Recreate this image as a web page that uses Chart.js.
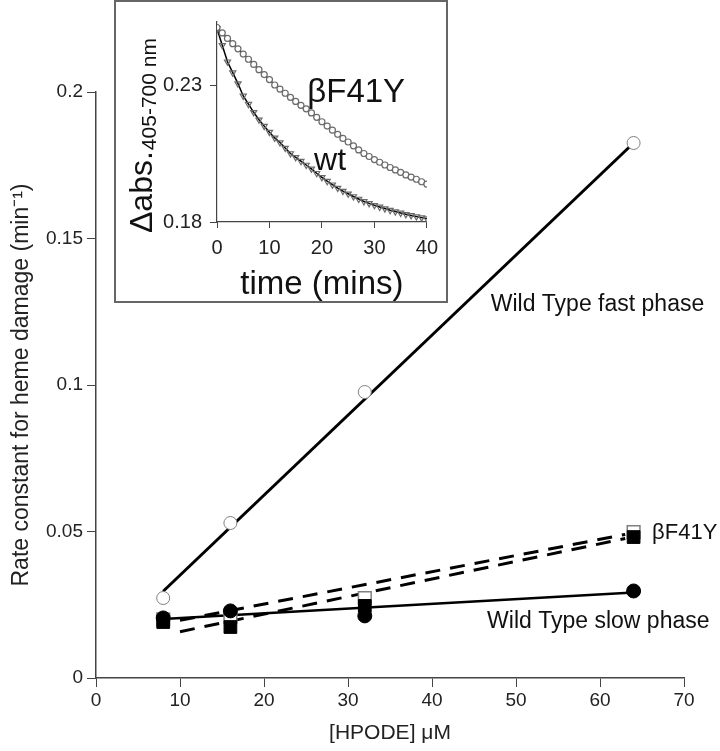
<!DOCTYPE html>
<html>
<head>
<meta charset="utf-8">
<script src="https://cdn.jsdelivr.net/npm/chart.js@4.4.0/dist/chart.umd.min.js"></script>
<style>
  html, body { margin: 0; padding: 0; background: #fff; }
  #wrap { position: relative; width: 720px; height: 751px; }
  #mainChart { position: absolute; left: 0; top: 0; }
  #inset { position: absolute; left: 114px; top: 0; width: 330px; height: 299px; border: 2px solid #666; background: #fff; }
  #insetChart { display: block; }
</style>
</head>
<body>
<div id="wrap">
  <canvas id="mainChart" width="720" height="751"></canvas>
  <div id="inset"><canvas id="insetChart" width="330" height="299"></canvas></div>
</div>
<script>
// main plot data
const hpode = [8, 16, 32, 64];
const wtFast = [0.0273, 0.0529, 0.0976, 0.1826];
const wtSlow = [0.0205, 0.0229, 0.0212, 0.0297];
const f41yOpen = [0.0200, 0.0208, 0.0273, 0.0498];
const f41yFilled = [0.0191, 0.0174, 0.0246, 0.0481];

// fitted lines (end points)
const fitX = [8, 64];
const fastFit = [0.0296, 0.1826];
const slowFit = [0.0201, 0.0292];
const f41yFitX = [10, 63];
const f41yUpperFit = [0.0197, 0.0490];
const f41yLowerFit = [0.0158, 0.0476];

// inset: absorbance traces
const timeMins = [0, 1, 2, 3, 4, 5, 6, 7, 8, 9, 10, 11, 12, 13, 14, 15, 16, 17, 18, 19, 20,
  21, 22, 23, 24, 25, 26, 27, 28, 29, 30, 31, 32, 33, 34, 35, 36, 37, 38, 39, 40];
const absF41Y = [0.2510, 0.2490, 0.2470, 0.2451, 0.2432, 0.2413, 0.2394, 0.2375, 0.2356, 0.2338, 0.2320,
  0.2300, 0.2285, 0.2270, 0.2255, 0.2240, 0.2226, 0.2213, 0.2198, 0.2182, 0.2166,
  0.2150, 0.2135, 0.2120, 0.2105, 0.2092, 0.2078, 0.2063, 0.2050, 0.2039, 0.2028,
  0.2018, 0.2008, 0.1999, 0.1990, 0.1981, 0.1972, 0.1964, 0.1956, 0.1947, 0.1938];
const absWt = [0.2505, 0.2445, 0.2385, 0.2345, 0.2305, 0.2260, 0.2230, 0.2200, 0.2173, 0.2150, 0.2128,
  0.2107, 0.2090, 0.2070, 0.2050, 0.2036, 0.2022, 0.2008, 0.1994, 0.1978, 0.1963,
  0.1949, 0.1936, 0.1924, 0.1913, 0.1903, 0.1893, 0.1884, 0.1875, 0.1868, 0.1861,
  0.1855, 0.1849, 0.1843, 0.1838, 0.1833, 0.1828, 0.1824, 0.1820, 0.1816, 0.1812];
const insetYTicks = [0.18, 0.23];

const pts = (xs, ys) => xs.map((x, i) => ({ x: x, y: ys[i] }));

const colors = {
    ink: '#111',
    axis: '#444',
    marker: '#808080'
};
const FONT = "'Liberation Sans', Arial, sans-serif";

// text labels drawn in data coordinates
const labelPlugin = {
    id: 'textLabels',
    afterDatasetsDraw(chart, args, opts) {
        const { ctx, scales } = chart;
        ctx.save();
        ctx.fillStyle = colors.ink;
        ctx.textBaseline = 'middle';
        (opts.items || []).forEach(it => {
            ctx.font = it.font;
            ctx.textAlign = it.align || 'left';
            ctx.fillText(it.text, scales.x.getPixelForValue(it.x), scales.y.getPixelForValue(it.y));
        });
        ctx.restore();
    }
};

document.addEventListener('DOMContentLoaded', function () {
    Chart.defaults.font.family = FONT;
    Chart.defaults.color = colors.ink;

    new Chart(document.getElementById('mainChart'), {
        type: 'scatter',
        data: {
            datasets: [
                {
                    data: pts(fitX, fastFit), showLine: true, borderColor: '#000', borderWidth: 3,
                    pointRadius: 0, order: 10
                },
                {
                    data: pts(fitX, slowFit), showLine: true, borderColor: '#000', borderWidth: 2.5,
                    pointRadius: 0, order: 10
                },
                {
                    data: pts(f41yFitX, f41yUpperFit), showLine: true, borderColor: '#000', borderWidth: 3,
                    borderDash: [15, 10], pointRadius: 0, order: 10
                },
                {
                    data: pts(f41yFitX, f41yLowerFit), showLine: true, borderColor: '#000', borderWidth: 3,
                    borderDash: [15, 10], pointRadius: 0, order: 10
                },
                {
                    data: pts(hpode, f41yOpen), pointStyle: 'rect', pointRadius: 9,
                    backgroundColor: '#fff', borderColor: colors.marker, borderWidth: 1.5, order: 6
                },
                {
                    data: pts(hpode, f41yFilled), pointStyle: 'rect', pointRadius: 9,
                    backgroundColor: '#000', borderColor: '#000', borderWidth: 1, order: 5
                },
                {
                    data: pts(hpode, wtSlow), pointStyle: 'circle', pointRadius: 7,
                    backgroundColor: '#000', borderColor: '#000', borderWidth: 1, order: 4
                },
                {
                    data: pts(hpode, wtFast), pointStyle: 'circle', pointRadius: 6.5,
                    backgroundColor: '#fff', borderColor: colors.marker, borderWidth: 1, order: 3
                }
            ]
        },
        options: {
            responsive: false,
            animation: false,
            events: [],
            layout: { padding: { left: 0, right: 36, top: 92, bottom: 0 } },
            plugins: {
                legend: { display: false },
                tooltip: { enabled: false },
                textLabels: {
                    items: [
                        { text: 'Wild Type fast phase', x: 59.7, y: 0.1273, align: 'center', font: '23px ' + FONT },
                        { text: 'βF41Y', x: 66.2, y: 0.0495, align: 'left', font: '22px ' + FONT },
                        { text: 'Wild Type slow phase', x: 59.8, y: 0.0191, align: 'center', font: '23px ' + FONT }
                    ]
                }
            },
            scales: {
                x: {
                    type: 'linear', min: 0, max: 70,
                    grid: { drawOnChartArea: false, drawTicks: true, tickLength: 9, color: colors.axis },
                    border: { color: colors.axis, width: 1.5 },
                    ticks: { stepSize: 10, padding: 2, font: { size: 19 }, color: '#222' },
                    title: { display: true, text: '[HPODE] μM', font: { size: 21 }, color: '#222', padding: { top: 0, bottom: 5 } },
                    afterFit: s => { s.height = 73; }
                },
                y: {
                    min: 0, max: 0.2,
                    grid: { drawOnChartArea: false, drawTicks: true, tickLength: 9, color: colors.axis },
                    border: { color: colors.axis, width: 1.5 },
                    ticks: { stepSize: 0.05, padding: 4, font: { size: 19 }, color: '#222', callback: v => String(+v.toFixed(2)) },
                    title: { display: true, text: 'Rate constant for heme damage (min⁻¹)', font: { size: 23 }, color: '#222', padding: { top: 8, bottom: 0 } },
                    afterFit: s => { s.width = 96; }
                }
            }
        },
        plugins: [labelPlugin]
    });

    // inset y title with subscript
    const insetTitle = {
        id: 'insetTitle',
        afterDraw(chart) {
            const ctx = chart.ctx;
            ctx.save();
            ctx.translate(36, 231);
            ctx.rotate(-Math.PI / 2);
            ctx.fillStyle = colors.ink;
            ctx.textAlign = 'left';
            ctx.textBaseline = 'alphabetic';
            ctx.font = '32px ' + FONT;
            ctx.fillText('Δabs.', 0, 0);
            const w = ctx.measureText('Δabs.').width;
            ctx.font = '21px ' + FONT;
            ctx.fillText('405-700 nm', w + 1, 4);
            ctx.restore();
        }
    };

    new Chart(document.getElementById('insetChart'), {
        type: 'scatter',
        data: {
            datasets: [
                {
                    data: pts(timeMins, absF41Y), showLine: true, borderColor: '#000', borderWidth: 1.5,
                    pointStyle: 'circle', pointRadius: 3, pointBorderColor: '#6a6a6a', pointBackgroundColor: '#fff',
                    pointBorderWidth: 1.2
                },
                {
                    data: pts(timeMins, absWt), showLine: true, borderColor: '#000', borderWidth: 1.5,
                    pointStyle: 'triangle', rotation: 180, pointRadius: 3.5, pointBorderColor: '#6a6a6a',
                    pointBackgroundColor: 'rgba(255,255,255,0)', pointBorderWidth: 1.2
                }
            ]
        },
        options: {
            responsive: false,
            animation: false,
            events: [],
            layout: { padding: { left: 0, right: 15, top: 10, bottom: 0 } },
            plugins: {
                legend: { display: false },
                tooltip: { enabled: false },
                textLabels: {
                    items: [
                        { text: 'βF41Y', x: 17.2, y: 0.2272, align: 'left', font: '33px ' + FONT },
                        { text: 'wt', x: 18.5, y: 0.2023, align: 'left', font: '32px ' + FONT }
                    ]
                }
            },
            scales: {
                x: {
                    type: 'linear', min: 0, max: 40,
                    grid: { drawOnChartArea: false, drawTicks: true, tickLength: 6, color: colors.axis },
                    border: { color: colors.axis, width: 1.2 },
                    ticks: { stepSize: 10, padding: 8, font: { size: 20 }, color: '#222' },
                    title: { display: true, text: 'time (mins)', font: { size: 33, lineHeight: 1 }, color: '#111', padding: { top: 0, bottom: 0 } },
                    afterFit: s => { s.height = 79; }
                },
                y: {
                    min: 0.18, max: 0.253,
                    grid: { drawOnChartArea: false, drawTicks: true, tickLength: 7, color: colors.axis },
                    border: { color: colors.axis, width: 1.2 },
                    ticks: { padding: 8, font: { size: 20 }, color: '#222', callback: v => v.toFixed(2) },
                    afterBuildTicks: s => { s.ticks = insetYTicks.map(v => ({ value: v })); },
                    afterFit: s => { s.width = 101; }
                }
            }
        },
        plugins: [labelPlugin, insetTitle]
    });
});
</script>
</body>
</html>
